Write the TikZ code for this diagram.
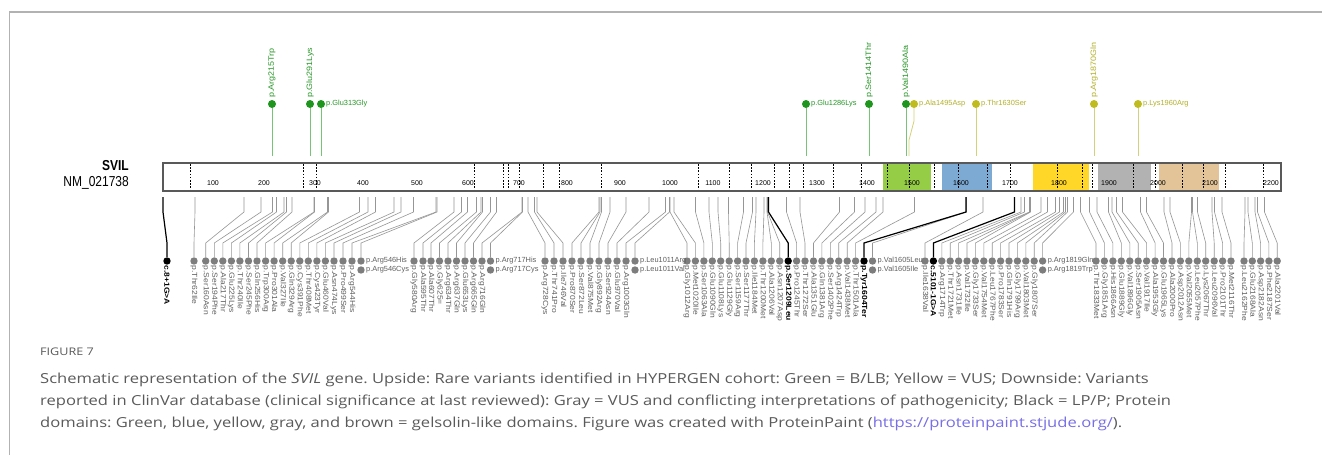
\documentclass[tikz,border=0pt]{standalone}
\usepackage{fontspec}
\usepackage{graphicx}
\setmainfont{Liberation Sans}
\newfontfamily\capfont[FakeStretch=1.2]{Open Sans}
\newfontfamily\vlblfont[FakeStretch=1.15]{Liberation Sans}
\definecolor{dotgreen}{RGB}{30,150,30}
\definecolor{stemgreen}{RGB}{120,195,120}
\definecolor{txtgreen}{RGB}{40,150,40}
\definecolor{dotyellow}{RGB}{190,188,30}
\definecolor{stemyellow}{RGB}{212,210,120}
\definecolor{txtyellow}{RGB}{178,176,40}
\definecolor{dotgray}{RGB}{125,125,125}
\definecolor{linkgray}{RGB}{150,150,150}
\definecolor{txtgray}{RGB}{95,95,95}
\definecolor{domgreen}{RGB}{150,205,70}
\definecolor{domblue}{RGB}{125,170,210}
\definecolor{domyellow}{RGB}{255,215,40}
\definecolor{domgray}{RGB}{178,178,178}
\definecolor{dombrown}{RGB}{226,196,152}
\definecolor{capgray}{RGB}{90,90,90}
\definecolor{linkblue}{RGB}{120,110,230}
\definecolor{framegray}{RGB}{178,178,178}
\frenchspacing
\begin{document}
\begin{tikzpicture}[x=1pt,y=-1pt,
  gdot/.style={circle,fill=dotgreen,inner sep=0pt,minimum size=8pt},
  ydot/.style={circle,fill=dotyellow,inner sep=0pt,minimum size=8pt},
  gstem/.style={draw=stemgreen,line width=0.8pt},
  ystem/.style={draw=stemyellow,line width=0.8pt},
  vtop/.style={rotate=90,anchor=west,inner sep=0pt,font=\vlblfont\fontsize{7.8}{7.8}\selectfont},
  htop/.style={anchor=west,inner sep=0pt,font=\fontsize{7.4}{7.4}\selectfont},
  vardot/.style={circle,fill=dotgray,inner sep=0pt,minimum size=7.4pt},
  lpdot/.style={circle,fill=black,inner sep=0pt,minimum size=7.4pt},
  varlink/.style={draw=linkgray,line width=0.6pt},
  lplink/.style={draw=black,line width=1.2pt},
  varlbl/.style={rotate=-90,anchor=west,inner sep=0pt,text=txtgray,font=\vlblfont\fontsize{7.4}{7.4}\selectfont},
  lplbl/.style={rotate=-90,anchor=west,inner sep=0pt,text=black,font=\vlblfont\bfseries\fontsize{7.4}{7.4}\selectfont},
  pairlbl/.style={anchor=west,inner sep=0pt,text=txtgray,font=\fontsize{7.4}{7.4}\selectfont},
  tick/.style={inner sep=0pt,font=\fontsize{7}{7}\selectfont},
  exon/.style={draw=black,line width=0.5pt,dash pattern=on 1.6pt off 1.6pt},
  capline/.style={anchor=base west,inner sep=0pt,text=capgray,font=\capfont\fontsize{13.8}{13.8}\selectfont}]
\useasboundingbox (0,0) rectangle (1322,455);
\fill[white] (0,0) rectangle (1322,455);
\draw[framegray,line width=1.5pt] (9.5,455) -- (9.5,12) -- (1322,12);

% gene name
\node[anchor=east,inner sep=0pt,font=\bfseries\fontsize{12}{12}\selectfont] (gene) at (129,166) {\scalebox{1}[1.2]{SVIL}};
\node[anchor=east,inner sep=0pt,font=\fontsize{12}{12}\selectfont] (nm) at (129,182.5) {\scalebox{1}[1.2]{NM\_021738}};

% protein bar and domains
\fill[domgreen] (883,163) rectangle (931,191);
\fill[domblue] (942,163) rectangle (992,191);
\fill[domyellow] (1033,163) rectangle (1089,191);
\fill[domgray] (1098,163) rectangle (1151,191);
\fill[dombrown] (1159,163) rectangle (1219,191);
\foreach \x in {163,190,303,316,474,503,508,519,543,559,601,698,729,751,774,789,803,833,861,
  887,909,934,958,987,1010,1057,1082,1092,1133,1155,1182,1203,1225,1263}
  \draw[exon] (\x,164) -- (\x,190);
\draw[gray!70!black,line width=1.2pt] (163,163) rectangle (1281,191);
\foreach \t/\x in {100/213,200/264,300/315,400/363,500/417,600/468,700/519,800/567,900/620,
  1000/670,1100/713,1200/763,1300/817,1400/867,1500/912,1600/961,1700/1010,1800/1059,
  1900/1109,2000/1158,2100/1210,2200/1271}
  \node[tick] (tk\t) at (\x,183) {\t};

% HYPERGEN variants, upside
\foreach \x/\lbl [count=\i] in {272/Arg215Trp,310/Glu291Lys,869/Ser1414Thr,906/Val1490Ala}{
  \node[gdot] (gv\i) at (\x,104) {};
  \coordinate (gvb\i) at (\x,156);
  \draw[gstem] (gvb\i) -- (gv\i);
  \node[vtop,text=txtgreen] (gvt\i) at (\x,98) {p.\lbl};
}
\foreach \x/\lbl [count=\i] in {321/Glu313Gly,806/Glu1286Lys}{
  \node[gdot] (gh\i) at (\x,104) {};
  \coordinate (ghb\i) at (\x,156);
  \draw[gstem] (ghb\i) -- (gh\i);
  \node[htop,text=txtgreen] (ght\i) at (\x+5,104) {p.\lbl};
}
\node[ydot] (yv1) at (1094,104) {};
\coordinate (yvb1) at (1094,156);
\draw[ystem] (yvb1) -- (yv1);
\node[vtop,text=txtyellow] (yvt1) at (1094,98) {p.Arg1870Gln};
\foreach \x/\lbl [count=\i] in {976/Thr1630Ser,1138/Lys1960Arg}{
  \node[ydot] (yh\i) at (\x,104) {};
  \coordinate (yhb\i) at (\x,156);
  \draw[ystem] (yhb\i) -- (yh\i);
  \node[htop,text=txtyellow] (yht\i) at (\x+5,104) {p.\lbl};
}
\node[ydot] (ala) at (914,104) {};
\coordinate (alab) at (909,156);
\coordinate (alaj) at (909,140);
\coordinate (alak) at (914,121);
\draw[ystem] (alab) -- (alaj) -- (alak) -- (ala);
\node[htop,text=txtyellow] (alat) at (919,104) {p.Ala1495Asp};

% ClinVar variants, downside
\foreach \cx/\aa/\lbl [count=\i] in {194/62/Thr62Ile,
  205.7/160/Ser160Asn,214.3/194/Ser194Phe,222.8/217/Ala217Thr,231.4/225/Glu225Lys,
  239.9/240/Thr240Ile,248.5/245/Ser245Phe,257/256/Gln256His,265.6/300/Trp300Arg,
  274.1/301/Pro301Ala,282.7/327/Val327Ile,291.2/329/Gln329Arg,299.8/391/Cys391Phe,
  308.3/408/Thr408Met,316.9/423/Cys423Tyr,325.4/460/Glu460Val,334/474/Asn474Lys,
  343/499/Pro499Ser,352/544/Arg544His,
  414/580/Gly580Arg,423/595/Ala595Thr,431/607/Ala607Thr,439.5/625/Gly625=,448/634/Arg634Thr,
  456.5/637/Arg637Gln,465/653/Glu653Lys,473.5/665/Arg665Gln,482/716/Arg716Gln,
  545/728/Arg728Cys,554/741/Thr741Pro,563/746/Ile746Val,572/870/Pro870Ser,581/872/Ser872Leu,
  590/875/Val875Met,599/892/Gly892Arg,608/924/Ser924Asn,617/970/Glu970Val,626/1003/Arg1003Gln,
  687/1012/Gly1012Arg,695.4/1020/Met1020Ile,703.9/1063/Ser1063Ala,712.3/1090/Glu1090Gln,
  720.7/1108/Glu1108Lys,729.2/1129/Glu1129Gly,737.6/1159/Ser1159Arg,746/1177/Ser1177Thr,
  754.4/1184/Ile1184Met,762.9/1200/Thr1200Met,771.3/1206/Ala1206Val,779.7/1207/Asn1207Asp,
  796.6/1245/Pro1245Thr,805/1272/Thr1272Ser,813.5/1351/Ala1351Glu,821.9/1381/Gln1381Arg,
  830.3/1402/Ser1402Phe,838.7/1424/Arg1424Trp,847.2/1438/Val1438Met,855.6/1501/Thr1501Ala,
  925/1638/Ile1638Val,941.8/1714/Arg1714Trp,950.2/1721/Thr1721Met,958.6/1731/Asn1731Ile,
  967/1732/Val1732Ile,975.4/1733/Gly1733Ser,983.8/1754/Val1754Met,992.2/1767/Leu1767Phe,
  1000.6/1783/Pro1783Ser,1009/1791/Gln1791His,1017.4/1799/Gly1799Arg,1025.8/1803/Val1803Met,
  1034.2/1807/Gly1807Ser,
  1096/1833/Thr1833Met,1104.4/1851/Gly1851Arg,1112.9/1866/His1866Asn,1121.3/1889/Glu1889Gly,
  1129.8/1896/Val1896Gly,1138.2/1905/Ser1905Asn,1146.6/1917/Val1917Ile,1155.1/1953/Ala1953Gly,
  1163.5/1965/Glu1965Lys,1172/2000/Ala2000Pro,1180.4/2012/Asp2012Asn,1188.8/2055/Val2055Met,
  1197.3/2057/Leu2057Phe,1205.7/2067/Lys2067Thr,1214.2/2096/Leu2096Val,1222.6/2101/Pro2101Thr,
  1231/2116/Met2116Thr,
  1244/2162/Leu2162Phe,1252.3/2168/Glu2168Ala,1260.6/2182/Asp2182Asn,1268.9/2187/Phe2187Ser,
  1277.2/2201/Ala2201Val}{
  \coordinate (b\i) at ({164+0.5*\aa},197);
  \coordinate (j\i) at ({164+0.5*\aa},212);
  \coordinate (k\i) at (\cx,243);
  \node[vardot] (d\i) at (\cx,261) {};
  \draw[varlink] (b\i) -- (j\i) -- (k\i) -- (d\i);
  \node[varlbl] (t\i) at (\cx,265.5) {p.\lbl};
}

% two variants at one residue
\foreach \cx/\aa/\lbla/\lblb [count=\i] in {361/546/Arg546His/Arg546Cys,490.5/717/Arg717His/Arg717Cys,
  635/1011/Leu1011Arg/Leu1011Val,872.5/1605/Val1605Leu/Val1605Ile,1042.6/1819/Arg1819Gln/Arg1819Trp}{
  \coordinate (pb\i) at ({164+0.5*\aa},197);
  \coordinate (pj\i) at ({164+0.5*\aa},212);
  \coordinate (pk\i) at (\cx,243);
  \node[vardot] (pa\i) at (\cx,261) {};
  \node[vardot] (pc\i) at (\cx,270) {};
  \draw[varlink] (pb\i) -- (pj\i) -- (pk\i) -- (pa\i);
  \node[pairlbl] (pat\i) at (\cx+5,261) {p.\lbla};
  \node[pairlbl] (pct\i) at (\cx+5,270) {p.\lblb};
}

% LP/P variants
\foreach \cx/\aa/\lbl [count=\i] in {167/-2/c.8+1G>A,788.2/1209/p.Ser1209Leu,
  864/1604/p.Tyr1604Ter,933.4/1701/c.5101-1G>A}{
  \coordinate (lb\i) at ({164+0.5*\aa},197);
  \coordinate (lj\i) at ({164+0.5*\aa},212);
  \coordinate (lk\i) at (\cx,243);
  \node[lpdot] (ld\i) at (\cx,261) {};
  \draw[lplink] (lb\i) -- (lj\i) -- (lk\i) -- (ld\i);
  \node[lplbl] (lt\i) at (\cx,265.5) {\lbl};
}

% caption
\node[anchor=base west,inner sep=0pt,text=capgray,font=\capfont\fontsize{10.5}{10.5}\selectfont] (fig) at (40,355) {FIGURE 7};
\node[capline] (cap1) at (40,383) {Schematic representation of the \textit{SVIL} gene. Upside: Rare variants identified in HYPERGEN cohort: Green = B/LB; Yellow = VUS; Downside: Variants};
\node[capline] (cap2) at (40,405) {reported in ClinVar database (clinical significance at last reviewed): Gray = VUS and conflicting interpretations of pathogenicity; Black = LP/P; Protein};
\node[capline] (cap3) at (40,427) {domains: Green, blue, yellow, gray, and brown = gelsolin-like domains. Figure was created with ProteinPaint (\textcolor{linkblue}{https://proteinpaint.stjude.org/}).};
\end{tikzpicture}
\end{document}
